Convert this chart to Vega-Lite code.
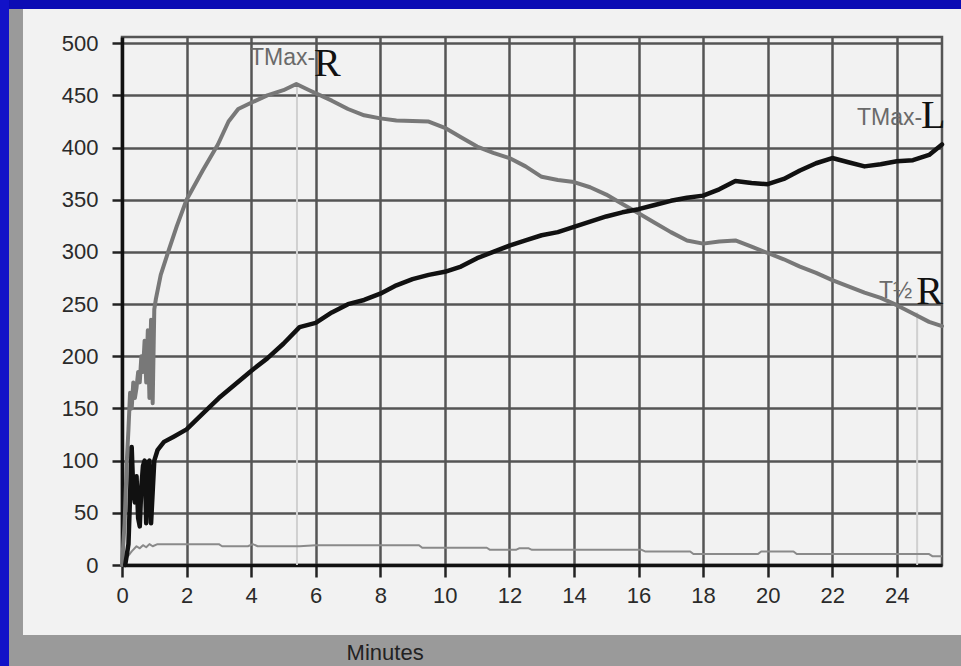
{
  "$schema": "https://vega.github.io/schema/vega-lite/v6.json",
  "width": 820,
  "height": 528,
  "autosize": {"type": "none"},
  "padding": {"left": 122, "top": 37, "right": 19, "bottom": 101},
  "background": "#f2f2f2",
  "config": {
    "view": {"stroke": "#555555", "strokeWidth": 2.5},
    "font": "Liberation Sans"
  },
  "datasets": {
    "frame": [
      {"part":"blueTop","x0":-5,"x1":27,"y0":532.8,"y1":560},
      {"part":"blueLeft","x0":-5,"x1":-3.5,"y0":-120,"y1":560},
      {"part":"grayLeft","x0":-3.5,"x1":-3.067,"y0":-120,"y1":532.8},
      {"part":"grayBottom","x0":-3.5,"x1":27,"y0":-120,"y1":-67.08}
    ],
    "R": [
      {"t":0.0,"v":0},{"t":0.08,"v":40},{"t":0.15,"v":100},{"t":0.2,"v":130},{"t":0.25,"v":165},{"t":0.3,"v":150},{"t":0.35,"v":175},{"t":0.4,"v":160},{"t":0.45,"v":170},{"t":0.5,"v":185},{"t":0.55,"v":175},{"t":0.6,"v":200},{"t":0.65,"v":185},{"t":0.7,"v":215},{"t":0.75,"v":175},{"t":0.8,"v":225},{"t":0.85,"v":160},{"t":0.9,"v":235},{"t":0.95,"v":155},{"t":1.0,"v":245},{"t":1.05,"v":255},{"t":1.2,"v":278},{"t":1.43,"v":300},{"t":1.7,"v":325},{"t":2.0,"v":350},{"t":2.5,"v":378},{"t":2.97,"v":403},{"t":3.3,"v":425},{"t":3.6,"v":437},{"t":4.0,"v":443},{"t":4.5,"v":450},{"t":5.0,"v":455},{"t":5.4,"v":461},{"t":5.8,"v":455},{"t":6.5,"v":445},{"t":7.0,"v":437},{"t":7.5,"v":431},{"t":8.0,"v":428},{"t":8.5,"v":426},{"t":9.5,"v":425},{"t":10.0,"v":419},{"t":10.5,"v":410},{"t":11.0,"v":401},{"t":11.5,"v":395},{"t":12.0,"v":390},{"t":12.5,"v":382},{"t":13.0,"v":372},{"t":13.5,"v":369},{"t":14.0,"v":367},{"t":14.5,"v":362},{"t":15.0,"v":355},{"t":15.5,"v":346},{"t":16.0,"v":337},{"t":16.5,"v":328},{"t":17.0,"v":319},{"t":17.5,"v":311},{"t":18.0,"v":308},{"t":18.5,"v":310},{"t":19.0,"v":311},{"t":19.5,"v":305},{"t":20.0,"v":299},{"t":20.5,"v":293},{"t":21.0,"v":286},{"t":21.5,"v":280},{"t":22.0,"v":273},{"t":22.5,"v":267},{"t":23.0,"v":261},{"t":23.5,"v":256},{"t":24.0,"v":249},{"t":24.5,"v":241},{"t":25.0,"v":233},{"t":25.4,"v":229}
    ],
    "L": [
      {"t":0.1,"v":0},{"t":0.2,"v":20},{"t":0.3,"v":113},{"t":0.35,"v":70},{"t":0.4,"v":60},{"t":0.45,"v":85},{"t":0.5,"v":45},{"t":0.55,"v":37},{"t":0.6,"v":75},{"t":0.65,"v":95},{"t":0.7,"v":100},{"t":0.75,"v":40},{"t":0.8,"v":98},{"t":0.85,"v":100},{"t":0.9,"v":40},{"t":0.95,"v":70},{"t":1.0,"v":100},{"t":1.1,"v":110},{"t":1.3,"v":118},{"t":1.6,"v":123},{"t":2.0,"v":130},{"t":2.5,"v":145},{"t":3.0,"v":160},{"t":3.5,"v":173},{"t":4.0,"v":186},{"t":4.5,"v":198},{"t":5.0,"v":212},{"t":5.5,"v":228},{"t":6.0,"v":232},{"t":6.5,"v":242},{"t":7.0,"v":250},{"t":7.5,"v":254},{"t":8.0,"v":260},{"t":8.5,"v":268},{"t":9.0,"v":274},{"t":9.5,"v":278},{"t":10.0,"v":281},{"t":10.5,"v":286},{"t":11.0,"v":294},{"t":11.5,"v":300},{"t":12.0,"v":306},{"t":12.5,"v":311},{"t":13.0,"v":316},{"t":13.5,"v":319},{"t":14.0,"v":324},{"t":14.5,"v":329},{"t":15.0,"v":334},{"t":15.5,"v":338},{"t":16.0,"v":341},{"t":16.5,"v":345},{"t":17.0,"v":349},{"t":17.5,"v":352},{"t":18.0,"v":354},{"t":18.5,"v":360},{"t":19.0,"v":368},{"t":19.5,"v":366},{"t":20.0,"v":365},{"t":20.5,"v":370},{"t":21.0,"v":378},{"t":21.5,"v":385},{"t":22.0,"v":390},{"t":22.5,"v":386},{"t":23.0,"v":382},{"t":23.5,"v":384},{"t":24.0,"v":387},{"t":24.5,"v":388},{"t":25.0,"v":393},{"t":25.4,"v":403}
    ],
    "base": [
      {"t":0,"v":0},{"t":0.1,"v":5},{"t":0.3,"v":13},{"t":0.45,"v":18},{"t":0.55,"v":16},{"t":0.65,"v":19},{"t":0.75,"v":17},{"t":0.85,"v":20},{"t":0.95,"v":18},{"t":1.1,"v":20},{"t":1.3,"v":20},{"t":3.0,"v":20},{"t":3.1,"v":18},{"t":3.9,"v":18},{"t":4.05,"v":20},{"t":4.2,"v":18},{"t":5.5,"v":18},{"t":6.0,"v":19},{"t":9.2,"v":19},{"t":9.3,"v":16.5},{"t":11.3,"v":16.5},{"t":11.4,"v":14.5},{"t":12.2,"v":14.5},{"t":12.3,"v":16},{"t":12.6,"v":16},{"t":12.7,"v":14.5},{"t":16.1,"v":14.5},{"t":16.2,"v":13},{"t":17.6,"v":13},{"t":17.7,"v":10.5},{"t":19.7,"v":10.5},{"t":19.8,"v":13},{"t":20.8,"v":13},{"t":20.9,"v":10.5},{"t":25.0,"v":10.5},{"t":25.1,"v":8.5},{"t":25.4,"v":8.5}
    ],
    "marks": [
      {"t":5.42,"v":0,"v2":461},
      {"t":24.63,"v":0,"v2":242}
    ],
    "sansLabels": [
      {"label":"TMax-","t":3.965,"v":479.2},
      {"label":"TMax-","t":22.767,"v":421.7},
      {"label":"T½","t":23.45,"v":255.9}
    ],
    "serifLabels": [
      {"label":"R","t":5.947,"v":468.6},
      {"label":"L","t":24.75,"v":418.8},
      {"label":"R","t":24.6,"v":250.1}
    ],
    "axisTitle": [
      {"label":"Minutes","t":8.15,"v":-84.3}
    ]
  },
  "encoding": {
    "x": {
      "field": "t", "type": "quantitative",
      "scale": {"domain": [0, 25.4], "nice": false, "zero": false},
      "axis": {
        "title": null,
        "values": [0,2,4,6,8,10,12,14,16,18,20,22,24],
        "grid": true, "gridColor": "#555555", "gridWidth": 2.5, "gridOpacity": 1,
        "domainColor": "#111111", "domainWidth": 3.5,
        "tickColor": "#222222", "tickWidth": 2.5, "tickSize": 12,
        "labelFont": "Liberation Sans", "labelFontSize": 22, "labelColor": "#2a2a2a",
        "labelPadding": 8, "labelFlush": false, "labelOverlap": false
      }
    },
    "y": {
      "field": "v", "type": "quantitative",
      "scale": {"domain": [0, 506], "nice": false, "zero": false},
      "axis": {
        "title": null,
        "values": [0,50,100,150,200,250,300,350,400,450,500],
        "grid": true, "gridColor": "#555555", "gridWidth": 2.5, "gridOpacity": 1,
        "domainColor": "#111111", "domainWidth": 3.5,
        "tickColor": "#222222", "tickWidth": 2.5, "tickSize": 10,
        "labelFont": "Liberation Sans", "labelFontSize": 22, "labelColor": "#2a2a2a",
        "labelPadding": 14, "labelOverlap": false
      }
    }
  },
  "layer": [
    {
      "data": {"name": "frame"},
      "mark": {"type": "rect", "clip": false, "strokeWidth": 0},
      "encoding": {
        "x": {"field": "x0", "type": "quantitative"}, "x2": {"field": "x1"},
        "y": {"field": "y0", "type": "quantitative"}, "y2": {"field": "y1"},
        "color": {
          "field": "part", "type": "nominal", "legend": null,
          "scale": {"domain": ["blueTop","blueLeft","grayLeft","grayBottom"], "range": ["#0c0cb4","#1212c8","#9a9a9a","#9a9a9a"]}
        }
      }
    },
    {
      "data": {"name": "axisTitle"},
      "mark": {"type": "text", "font": "Liberation Sans", "fontSize": 22, "color": "#222222", "align": "center", "baseline": "middle"},
      "encoding": {"text": {"field": "label"}}
    },
    {
      "data": {"name": "marks"},
      "mark": {"type": "rule", "color": "#d0d0d0", "strokeWidth": 2},
      "encoding": {"y2": {"field": "v2"}}
    },
    {
      "data": {"name": "base"},
      "mark": {"type": "line", "color": "#8a8a8a", "strokeWidth": 2, "strokeJoin": "round"},
      "encoding": {"order": {"field": "t"}}
    },
    {
      "data": {"name": "R"},
      "mark": {"type": "line", "color": "#787878", "strokeWidth": 4, "strokeJoin": "round", "strokeCap": "round"},
      "encoding": {"order": {"field": "t"}}
    },
    {
      "data": {"name": "L"},
      "mark": {"type": "line", "color": "#111111", "strokeWidth": 4.5, "strokeJoin": "round", "strokeCap": "round"},
      "encoding": {"order": {"field": "t"}}
    },
    {
      "data": {"name": "sansLabels"},
      "mark": {"type": "text", "font": "Liberation Sans", "fontSize": 23, "color": "#6a6a6a", "align": "left", "baseline": "alphabetic", "clip": false},
      "encoding": {"text": {"field": "label"}}
    },
    {
      "data": {"name": "serifLabels"},
      "mark": {"type": "text", "font": "Liberation Serif", "fontSize": 40, "color": "#111111", "align": "left", "baseline": "alphabetic", "clip": false},
      "encoding": {"text": {"field": "label"}}
    }
  ]
}
